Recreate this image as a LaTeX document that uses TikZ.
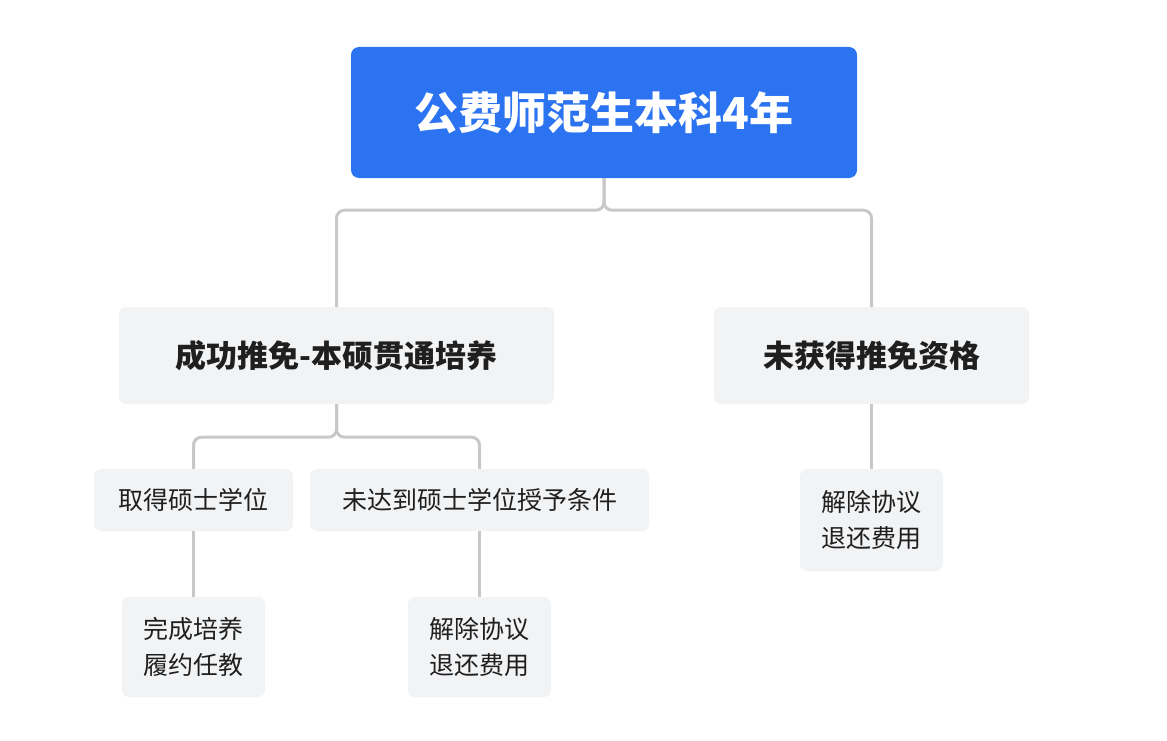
\documentclass[tikz,border=0pt]{standalone}
\usepackage{fontspec}
\setmainfont{Noto Sans CJK SC}
\definecolor{rootblue}{HTML}{2B73F0}
\definecolor{boxgray}{HTML}{F2F3F5}
\definecolor{linegray}{HTML}{C8C8C8}
\definecolor{txt}{HTML}{1F1F1F}
\begin{document}
\begin{tikzpicture}[x=1pt,y=-1pt,
  box/.style={fill=boxgray,rounded corners=7pt,inner sep=0pt,align=center,text=txt},
  rootbox/.style={fill=rootblue,rounded corners=8pt,inner sep=0pt,text=white,font=\fontsize{44}{50}\selectfont\bfseries},
  l1/.style={box,font=\fontsize{31}{36}\selectfont\bfseries},
  l2/.style={box,font=\fontsize{25}{36}\selectfont},
  conn/.style={draw=linegray,line width=3pt,rounded corners=8pt}]
\useasboundingbox (0,0) rectangle (1167,741);
\node[rootbox,minimum width=506,minimum height=131] (root) at (604,112.5) {公费师范生本科4年};
\node[l1,minimum width=435,minimum height=97] (a) at (336.5,355.5) {成功推免-本硕贯通培养};
\node[l1,minimum width=315,minimum height=97] (b) at (871.5,355.5) {未获得推免资格};
\node[l2,minimum width=199,minimum height=62] (a1) at (193.5,500) {取得硕士学位};
\node[l2,minimum width=339,minimum height=62] (a2) at (479.5,500) {未达到硕士学位授予条件};
\node[l2,minimum width=143,minimum height=102] (b1) at (871.5,520) {解除协议\\退还费用};
\node[l2,minimum width=143,minimum height=100] (a11) at (193.5,647) {完成培养\\履约任教};
\node[l2,minimum width=143,minimum height=100] (a21) at (479.5,647) {解除协议\\退还费用};
\draw[conn] (root.south) -- ++(0,32) -| (a.north);
\draw[conn] (root.south) -- ++(0,32) -| (b.north);
\draw[conn] (a.south) -- ++(0,33) -| (a1.north);
\draw[conn] (a.south) -- ++(0,33) -| (a2.north);
\draw[conn] (b.south) -- (b1.north);
\draw[conn] (a1.south) -- (a11.north);
\draw[conn] (a2.south) -- (a21.north);
\end{tikzpicture}
\end{document}
